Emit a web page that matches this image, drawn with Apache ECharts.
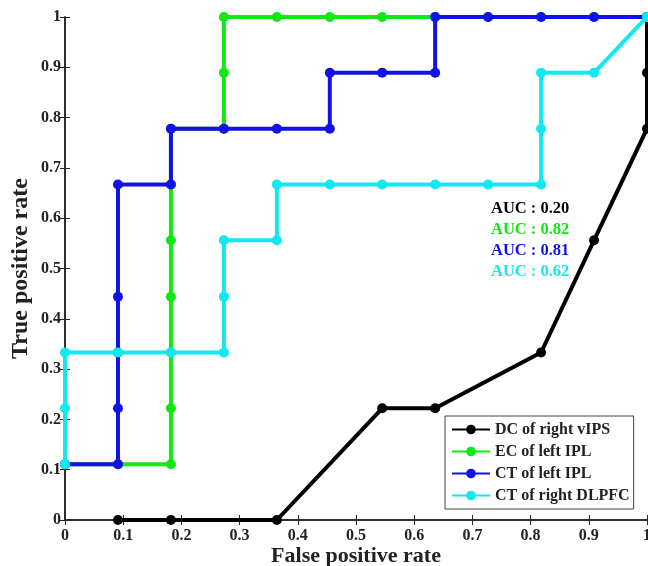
<!DOCTYPE html>
<html>
<head>
<meta charset="utf-8">
<script src="https://cdn.jsdelivr.net/npm/echarts@6/dist/echarts.min.js"></script>
<style>
  html, body { margin: 0; padding: 0; background: #fff; }
  #chart { width: 648px; height: 566px; }
</style>
</head>
<body>
<div id="chart"></div>
<script>
// ROC points (FPR, TPR)
const dcRightVipsX = [0.091, 0.182, 0.364, 0.545, 0.636, 0.818, 0.909, 1, 1, 1];
const dcRightVipsY = [0, 0, 0, 0.222, 0.222, 0.333, 0.556, 0.778, 0.889, 1];

const ecLeftIplX = [0, 0.091, 0.182, 0.182, 0.182, 0.182, 0.182, 0.182, 0.182, 0.273, 0.273, 0.273, 0.364, 0.455, 0.545, 0.636, 0.727, 0.818, 0.909, 1];
const ecLeftIplY = [0.111, 0.111, 0.111, 0.222, 0.333, 0.444, 0.556, 0.667, 0.778, 0.778, 0.889, 1, 1, 1, 1, 1, 1, 1, 1, 1];

const ctLeftIplX = [0, 0.091, 0.091, 0.091, 0.091, 0.091, 0.182, 0.182, 0.273, 0.364, 0.455, 0.455, 0.545, 0.636, 0.636, 0.727, 0.818, 0.909, 1];
const ctLeftIplY = [0.111, 0.111, 0.222, 0.333, 0.444, 0.667, 0.667, 0.778, 0.778, 0.778, 0.778, 0.889, 0.889, 0.889, 1, 1, 1, 1, 1];

const ctRightDlpfcX = [0, 0, 0, 0.091, 0.182, 0.273, 0.273, 0.273, 0.364, 0.364, 0.455, 0.545, 0.636, 0.727, 0.818, 0.818, 0.818, 0.909, 1];
const ctRightDlpfcY = [0.111, 0.222, 0.333, 0.333, 0.333, 0.333, 0.444, 0.556, 0.556, 0.667, 0.667, 0.667, 0.667, 0.667, 0.667, 0.778, 0.889, 0.889, 1];

const seriesNames = ["DC of right vIPS", "EC of left IPL", "CT of left IPL", "CT of right DLPFC"];
const aucLabels = ["AUC : 0.20", "AUC : 0.82", "AUC : 0.81", "AUC : 0.62"];
const tickLabels = ["0", "0.1", "0.2", "0.3", "0.4", "0.5", "0.6", "0.7", "0.8", "0.9", "1"];

const colors = ["#000000", "#11e811", "#1111e8", "#11e8f0"];
const serif = "'Liberation Serif', 'Times New Roman', serif";

const zip = (xs, ys) => xs.map((x, i) => [x, ys[i]]);
const allData = [
  zip(dcRightVipsX, dcRightVipsY),
  zip(ecLeftIplX, ecLeftIplY),
  zip(ctLeftIplX, ctLeftIplY),
  zip(ctRightDlpfcX, ctRightDlpfcY),
];

const myChart = echarts.init(document.getElementById("chart"));

const tickLabelStyle = {
  color: "#222",
  fontSize: 16,
  fontWeight: "bold",
  fontFamily: serif,
  formatter: (v) => tickLabels[Math.round(v * 10)],
};

function axisBase(extra) {
  return Object.assign({
    type: "value",
    min: 0,
    max: 1,
    interval: 0.1,
    splitLine: { show: false },
    axisLine: { show: true, lineStyle: { color: "#222", width: 1.5 } },
    axisTick: { show: true, inside: true, length: 5, lineStyle: { color: "#222", width: 1 } },
  }, extra);
}

const series = allData.map((d, i) => ({
  name: seriesNames[i],
  type: "line",
  data: d,
  clip: false,
  symbol: "circle",
  symbolSize: 10,
  showAllSymbol: true,
  z: 3 + i,
  lineStyle: { color: colors[i], width: 4 },
  itemStyle: { color: colors[i] },
}));

let options = {
  backgroundColor: "#fff",
  animation: false,
  grid: { left: 65, right: 1, top: 17, bottom: 46, outerBoundsMode: "none", containLabel: false },
  xAxis: [
    axisBase({
      position: "bottom",
      name: "False positive rate",
      nameLocation: "middle",
      nameGap: 25,
      nameMoveOverlap: false,
      nameTextStyle: { color: "#222", fontSize: 22, fontWeight: "bold", fontFamily: serif },
      axisLabel: Object.assign({ margin: 8 }, tickLabelStyle),
    }),
    axisBase({ position: "top", axisLabel: { show: false } }),
  ],
  yAxis: [
    axisBase({
      position: "left",
      name: "True positive rate",
      nameLocation: "middle",
      nameGap: 32,
      nameMoveOverlap: false,
      nameTextStyle: { color: "#222", fontSize: 24, fontWeight: "bold", fontFamily: serif },
      axisLabel: Object.assign({ margin: 4 }, tickLabelStyle),
    }),
    axisBase({ position: "right", axisLabel: { show: false } }),
  ],
  legend: {
    orient: "vertical",
    left: 445,
    top: 416,
    padding: [5, 4, 5, 6],
    itemGap: 5,
    itemWidth: 38,
    itemHeight: 12,
    backgroundColor: "#fff",
    borderColor: "#444",
    borderWidth: 1,
    borderRadius: 0,
    textStyle: { color: "#222", fontSize: 16, fontWeight: "bold", fontFamily: serif, lineHeight: 17 },
    data: seriesNames,
  },
  graphic: aucLabels.map((t, i) => ({
    type: "text",
    left: 491,
    top: 200 + i * 21,
    z: 20,
    style: { text: t, fill: colors[i], font: "bold 16.5px " + serif },
  })),
  series: series,
};

myChart.setOption(options, true);
</script>
</body>
</html>
